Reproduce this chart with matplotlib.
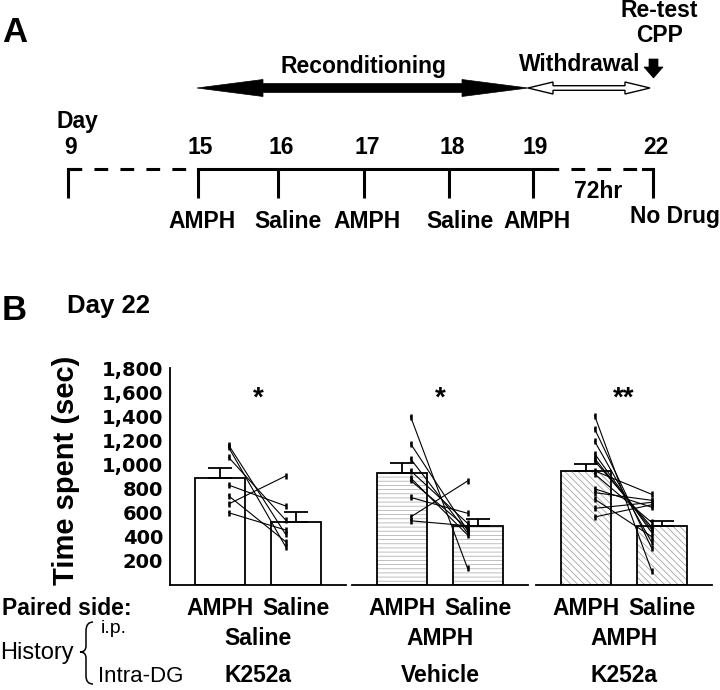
import matplotlib.pyplot as plt
from matplotlib.patches import Polygon, PathPatch
from matplotlib.path import Path
from matplotlib.ticker import FuncFormatter
from matplotlib.transforms import blended_transform_factory

plt.rcParams['font.family'] = ['Liberation Sans', 'DejaVu Sans']
plt.rcParams['hatch.linewidth'] = 0.6

# ---- panel A: schedule
days = [9, 15, 16, 17, 18, 19, 22]
treatments = ['', 'AMPH', 'Saline', 'AMPH', 'Saline', 'AMPH', 'No Drug']

# ---- panel B: Day 22 re-test
paired_side = ['AMPH', 'Saline']
history_ip = ['Saline', 'AMPH', 'AMPH']
history_dg = ['K252a', 'Vehicle', 'K252a']
bar_means = [[890, 521], [927, 491], [948, 486]]
bar_sem = [[83, 81], [83, 53], [59, 46]]
stars = ['*', '*', '**']
amph_points = [
    [1162, 1143, 1060, 829, 740, 671, 599],
    [1398, 1173, 1047, 948, 889, 867, 726, 563, 532],
    [1407, 1297, 1194, 1090, 1051, 1030, 947, 921, 798, 766, 712, 635, 563],
]
saline_points = [
    [419, 316, 538, 655, 358, 904, 455],
    [135, 450, 430, 510, 413, 470, 594, 863, 490],
    [115, 305, 354, 435, 460, 480, 752, 518, 645, 702, 400, 685, 665],
]
yticks = [200, 400, 600, 800, 1000, 1200, 1400, 1600, 1800]

# layout (pixels on a 720x690 canvas)
tick_x = [68, 197.5, 278, 364, 449, 532.5, 653]
label_x = [0, 202, 288, 367, 460, 537, 675]
line_y = 169
hatches = [None, '----', '\\\\\\\\\\']
hatch_colors = ['white', '#b5b5b5', '#a5a5a5']
ax_lefts = [169.5, 351.5, 535.5]

fig = plt.figure(figsize=(7.2, 6.9), dpi=100)

ov = fig.add_axes([0, 0, 1, 1])
ov.set_xlim(0, 720)
ov.set_ylim(690, 0)
ov.axis('off')


def txt(x, base, s, size, weight='bold', ha='center', **kw):
    ov.text(x, base, s, fontsize=size, fontweight=weight, ha=ha,
            va='baseline', **kw)


def double_arrow(x0, x1, y, body, head, head_len, face, lw):
    pts = [
        (x0, y), (x0 + head_len, y - head), (x0 + head_len, y - body),
        (x1 - head_len, y - body), (x1 - head_len, y - head), (x1, y),
        (x1 - head_len, y + head), (x1 - head_len, y + body),
        (x0 + head_len, y + body), (x0 + head_len, y + head),
    ]
    ov.add_patch(Polygon(pts, closed=True, facecolor=face,
                         edgecolor='black', lw=lw, joinstyle='miter'))


# panel A
txt(2, 42, 'A', 25, ha='left')
double_arrow(197, 528, 88, 4.5, 8.5, 66, 'black', 0.5)
double_arrow(528, 650, 88, 2.3, 6, 25, 'white', 1.0)
ov.add_patch(Polygon([(649, 59), (658, 59), (658, 67), (663, 67),
                      (653.5, 78), (644, 67), (649, 67)],
                     closed=True, facecolor='black', edgecolor='black', lw=0.5))
txt(363, 73, 'Reconditioning', 16.5)
txt(580, 71, 'Withdrawal', 16.5)
txt(659, 17, 'Re-test', 16.5)
txt(660, 42, 'CPP', 16.5)
txt(56, 128, 'Day', 16.5, ha='left')
txt(598, 198, '72hr', 16.5)

ov.plot([tick_x[0], tick_x[1]], [line_y, line_y], color='black', lw=2.2,
        linestyle=(0, (4.5, 4)), solid_capstyle='butt')
ov.plot([tick_x[1], 548], [line_y, line_y], color='black', lw=2.2)
ov.plot([548, tick_x[-1]], [line_y, line_y], color='black', lw=2.2,
        linestyle=(1, (4.5, 4)))
for i, (d, x) in enumerate(zip(days, tick_x)):
    ov.plot([x, x], [line_y - 1, 198], color='black', lw=2.2,
            solid_capstyle='butt')
    txt(x + 3, 154, str(d), 16.5)
    if treatments[i]:
        base = 223 if treatments[i] == 'No Drug' else 228
        txt(label_x[i], base, treatments[i], 16.5)
ov.plot([tick_x[0], tick_x[0] + 10], [line_y, line_y], color='black', lw=2.2)
ov.plot([tick_x[-1] - 10, tick_x[-1]], [line_y, line_y], color='black', lw=2.2)

# panel B
txt(2, 320, 'B', 25, ha='left')
txt(67, 313, 'Day 22', 18.5, ha='left')
ov.text(66, 470, 'Time spent (sec)', rotation=90, ha='center', va='center',
        fontsize=21, fontweight='bold')
txt(2, 615, 'Paired side:', 16.5, ha='left')
txt(101, 633, 'i.p.', 14, weight='normal', ha='left')
txt(98, 682, 'Intra-DG', 16, weight='normal', ha='left')
txt(0, 659, 'History', 17, weight='normal', ha='left')
brace = Path([(93, 622), (86, 622), (86, 631), (86, 646), (86, 652), (80, 652),
              (86, 652), (86, 658), (86, 676), (86, 684), (93, 684)],
             [Path.MOVETO, Path.CURVE3, Path.CURVE3, Path.LINETO, Path.CURVE3,
              Path.CURVE3, Path.CURVE3, Path.CURVE3, Path.LINETO, Path.CURVE3,
              Path.CURVE3])
ov.add_patch(PathPatch(brace, facecolor='none', edgecolor='black', lw=1.1))

bottom = (690 - 584.7) / 690
height = (584.7 - 368.3) / 690
xs = [0, 1.5]
for g in range(3):
    ax = fig.add_axes([ax_lefts[g] / 720, bottom, 176.75 / 720, height])
    ax.bar(xs, bar_means[g], width=1, color='white',
           edgecolor=hatch_colors[g], hatch=hatches[g], lw=0, zorder=1)
    ax.bar(xs, bar_means[g], width=1, fill=False, edgecolor='black',
           lw=1.3, zorder=2)
    ax.errorbar(xs, bar_means[g], yerr=[[0, 0], bar_sem[g]], fmt='none',
                ecolor='black', elinewidth=1.3, capsize=8.5, capthick=1.3,
                zorder=3)
    for a, s in zip(amph_points[g], saline_points[g]):
        ax.plot([0.17, 1.3], [a, s], color='black', lw=0.8, marker='|',
                ms=5, mew=1.8, zorder=4, clip_on=False)
    ax.set_xlim(-1, 2.5)
    ax.set_ylim(0, 1800)
    ax.set_xticks([])
    for side in ['top', 'right']:
        ax.spines[side].set_visible(False)
    ax.spines['bottom'].set_linewidth(1.3)
    if g == 0:
        ax.spines['left'].set_linewidth(1.3)
        ax.set_yticks(yticks)
        ax.yaxis.set_major_formatter(FuncFormatter(lambda v, p: f'{int(v):,}'))
        ax.tick_params(axis='y', length=0, pad=4.5)
        for lab in ax.get_yticklabels():
            lab.set_fontfamily('DejaVu Sans')
            lab.set_fontweight('bold')
            lab.set_fontsize(14)
    else:
        ax.spines['left'].set_visible(False)
        ax.set_yticks([])
    ax.patch.set_visible(False)

    tr = blended_transform_factory(ax.transData, ov.transData)
    ov.text(0.75, 406, stars[g], transform=tr, ha='center', va='baseline',
            fontsize=20, fontweight='bold')
    for x, lab in zip(xs, paired_side):
        ov.text(x, 615, lab, transform=tr, ha='center', va='baseline',
                fontsize=16.5, fontweight='bold')
    ov.text(0.75, 645, history_ip[g], transform=tr, ha='center',
            va='baseline', fontsize=16.5, fontweight='bold')
    ov.text(0.75, 682, history_dg[g], transform=tr, ha='center',
            va='baseline', fontsize=16.5, fontweight='bold')

fig.savefig('out.png', dpi=100)
